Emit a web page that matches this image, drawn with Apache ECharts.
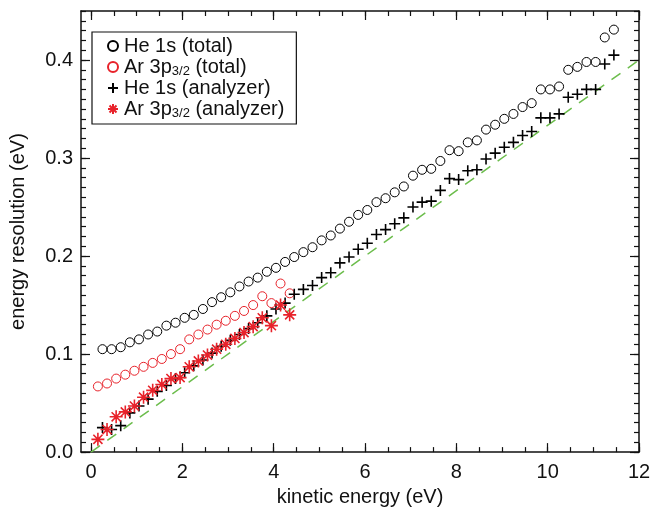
<!DOCTYPE html>
<html>
<head>
<meta charset="utf-8">
<script src="https://cdn.jsdelivr.net/npm/echarts@6/dist/echarts.min.js"></script>
<style>
  html, body { margin: 0; padding: 0; background: #fff; }
  #chart { width: 663px; height: 512px; }
</style>
</head>
<body>
<div id="chart"></div>
<script>
// kinetic energy for He points (eV)
const xHe = [0.25, 0.45, 0.65, 0.85, 1.05, 1.25, 1.45, 1.65, 1.85, 2.05,
  2.25, 2.45, 2.65, 2.85, 3.05, 3.25, 3.45, 3.65, 3.85, 4.05,
  4.25, 4.45, 4.65, 4.85, 5.05, 5.25, 5.45, 5.65, 5.85, 6.05,
  6.25, 6.45, 6.65, 6.85, 7.05, 7.25, 7.45, 7.65, 7.85, 8.05,
  8.25, 8.45, 8.65, 8.85, 9.05, 9.25, 9.45, 9.65, 9.85, 10.05,
  10.25, 10.45, 10.65, 10.85, 11.05, 11.25, 11.45];
const heTotal = [0.105, 0.105, 0.107, 0.112, 0.115, 0.120, 0.123, 0.129, 0.132, 0.137,
  0.140, 0.146, 0.153, 0.158, 0.163, 0.169, 0.174, 0.178, 0.184, 0.188,
  0.194, 0.199, 0.204, 0.209, 0.216, 0.221, 0.228, 0.235, 0.242, 0.247,
  0.255, 0.259, 0.265, 0.271, 0.282, 0.288, 0.289, 0.297, 0.308, 0.307,
  0.316, 0.318, 0.329, 0.334, 0.340, 0.345, 0.352, 0.356, 0.370, 0.370,
  0.373, 0.390, 0.393, 0.398, 0.398, 0.423, 0.431];
const heAnalyzer = [0.025, 0.023, 0.027, 0.040, 0.047, 0.054, 0.062, 0.068, 0.075, 0.081,
  0.088, 0.094, 0.101, 0.108, 0.114, 0.120, 0.126, 0.132, 0.139, 0.146,
  0.152, 0.161, 0.166, 0.170, 0.178, 0.183, 0.193, 0.199, 0.207, 0.213,
  0.222, 0.227, 0.233, 0.239, 0.250, 0.255, 0.256, 0.267, 0.279, 0.278,
  0.287, 0.288, 0.299, 0.305, 0.311, 0.316, 0.323, 0.327, 0.341, 0.341,
  0.345, 0.362, 0.365, 0.370, 0.370, 0.396, 0.405];

// kinetic energy for Ar points (eV)
const xAr = [0.15, 0.35, 0.55, 0.75, 0.95, 1.15, 1.35, 1.55, 1.75, 1.95, 2.15,
  2.35, 2.55, 2.75, 2.95, 3.15, 3.35, 3.55, 3.75, 3.95, 4.15, 4.35];
const arTotal = [0.067, 0.070, 0.075, 0.079, 0.083, 0.087, 0.091, 0.095, 0.100, 0.105, 0.115,
  0.120, 0.125, 0.130, 0.134, 0.139, 0.144, 0.150, 0.159, 0.152, 0.172, 0.162];
const arAnalyzer = [0.013, 0.023, 0.036, 0.041, 0.047, 0.056, 0.063, 0.069, 0.075, 0.076, 0.087,
  0.093, 0.099, 0.105, 0.110, 0.116, 0.122, 0.128, 0.137, 0.129, 0.150, 0.140];

// dashed reference line
const refX = [0, 12];
const refY = [0, 0.4];

// ticks
const xMajor = [0, 2, 4, 6, 8, 10, 12];
const yMajor = [0, 0.1, 0.2, 0.3, 0.4];
const xMinor = [];
for (let v = 0; v <= 12; v += 0.5) xMinor.push(v);
const yMinor = [];
for (let i = 0; i <= 45; i++) yMinor.push(i / 100);

const pairs = (xs, ys) => xs.map((x, i) => [x, ys[i]]);

const FONT = 'Liberation Sans';
const RED = '#e8222a';
const X_MIN = -0.22, X_MAX = 12, Y_MIN = 0, Y_MAX = 0.45;

function frameAxis(dim, position, ticks, len, withLine, extra) {
  return Object.assign({
    type: 'value',
    position: position,
    min: dim === 'x' ? X_MIN : Y_MIN,
    max: dim === 'x' ? X_MAX : Y_MAX,
    splitLine: { show: false },
    axisLine: { show: withLine, onZero: false, lineStyle: { color: '#111', width: 1.5 } },
    axisTick: { show: true, inside: true, length: len, customValues: ticks, lineStyle: { color: '#111', width: 1.2 } },
    axisLabel: { show: false }
  }, extra || {});
}

const chart = echarts.init(document.getElementById('chart'));

const hollowCircle = { color: 'rgba(0,0,0,0)', borderWidth: 1, opacity: 1 };

chart.setOption({
  animation: false,
  backgroundColor: '#fff',
  textStyle: { fontFamily: FONT },
  grid: { left: 80, right: 24, top: 11, bottom: 53 },
  legend: {
    left: 92, top: 32,
    orient: 'vertical',
    backgroundColor: '#fff',
    borderColor: '#111', borderWidth: 1.2,
    padding: [3, 12, 4, 15],
    itemGap: -1,
    itemWidth: 12, itemHeight: 10,
    data: ['He 1s (total)', 'Ar 3p3/2 (total)', 'He 1s (analyzer)', 'Ar 3p3/2 (analyzer)'],
    formatter: name => name.replace('3/2', '{sub|3/2}'),
    textStyle: {
      fontFamily: FONT, fontSize: 20, color: '#111', lineHeight: 22,
      rich: { sub: { fontFamily: FONT, fontSize: 13, lineHeight: 13, padding: [9, 0, 0, 0], color: '#111' } }
    }
  },
  xAxis: [
    frameAxis('x', 'bottom', xMajor, 9, true, {
      name: 'kinetic energy (eV)', nameLocation: 'middle', nameGap: 25,
      nameTextStyle: { fontFamily: FONT, fontSize: 20, color: '#111' },
      axisLabel: { show: true, customValues: xMajor, margin: 10, fontFamily: FONT, fontSize: 20, color: '#111' }
    }),
    frameAxis('x', 'bottom', xMinor, 5, false),
    frameAxis('x', 'top', xMajor, 9, true),
    frameAxis('x', 'top', xMinor, 5, false)
  ],
  yAxis: [
    frameAxis('y', 'left', yMajor, 9, true, {
      name: 'energy resolution (eV)', nameLocation: 'middle', nameGap: 53,
      nameTextStyle: { fontFamily: FONT, fontSize: 20, color: '#111' },
      axisLabel: { show: true, customValues: yMajor, margin: 8, fontFamily: FONT, fontSize: 20, color: '#111',
        formatter: v => v.toFixed(1) }
    }),
    frameAxis('y', 'left', yMinor, 5, false),
    frameAxis('y', 'right', yMajor, 9, true),
    frameAxis('y', 'right', yMinor, 5, false)
  ],
  series: [
    {
      name: 'fit', type: 'line', data: pairs(refX, refY), symbol: 'none', silent: true,
      lineStyle: { color: '#6cbd4c', width: 1.5, type: [11, 9] }, z: 1
    },
    {
      name: 'He 1s (total)', type: 'scatter', data: pairs(xHe, heTotal),
      symbol: 'circle', symbolSize: 9,
      itemStyle: Object.assign({ borderColor: '#000' }, hollowCircle)
    },
    {
      name: 'Ar 3p3/2 (total)', type: 'scatter', data: pairs(xAr, arTotal),
      symbol: 'circle', symbolSize: 9,
      itemStyle: Object.assign({ borderColor: RED }, hollowCircle)
    },
    {
      name: 'He 1s (analyzer)', type: 'scatter', data: pairs(xHe, heAnalyzer),
      symbol: 'path://M0,5L10,5M5,0L5,10', symbolSize: 11,
      itemStyle: { color: 'rgba(0,0,0,0)', borderColor: '#000', borderWidth: 1.6, opacity: 1 }
    },
    {
      name: 'Ar 3p3/2 (analyzer)', type: 'scatter', data: pairs(xAr, arAnalyzer),
      symbol: 'path://M5,0L5,10M0,5L10,5M1.5,1.5L8.5,8.5M8.5,1.5L1.5,8.5', symbolSize: 13,
      itemStyle: { color: 'rgba(0,0,0,0)', borderColor: RED, borderWidth: 1.6, opacity: 1 }
    }
  ]
});
</script>
</body>
</html>
